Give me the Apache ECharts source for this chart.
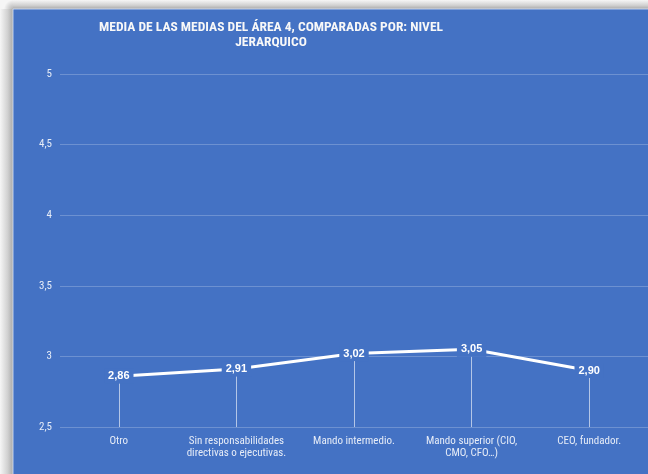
<!DOCTYPE html>
<html>
<head>
<meta charset="utf-8">
<style>
  html, body { margin: 0; padding: 0; background: #ffffff; }
  #chart { width: 648px; height: 474px; }
</style>
<script src="https://cdn.jsdelivr.net/npm/echarts@6/dist/echarts.min.js"></script>
</head>
<body>
<div id="chart"></div>
<script>
// Hierarchy levels and the average score of area 4 for each
const categories = [
  'Otro',
  'Sin responsabilidades\ndirectivas o ejecutivas.',
  'Mando intermedio.',
  'Mando superior (CIO,\nCMO, CFO…)',
  'CEO, fundador.'
];
const averages = [2.86, 2.91, 3.02, 3.05, 2.90];
const yTicks = { min: 2.5, max: 5, step: 0.5 };
const titleLines = ['MEDIA DE LAS MEDIAS DEL ÁREA 4, COMPARADAS POR: NIVEL', 'JERARQUICO'];

const PANEL = '#4472C4';
const narrow = "'Roboto Condensed', 'Liberation Sans Narrow', 'Arial Narrow', Roboto, sans-serif";
const comma = v => String(v).replace('.', ',');

// grey fade used for the card's outer shadow
const fade = (x, y, x2, y2) => new echarts.graphic.LinearGradient(x, y, x2, y2, [
  { offset: 0, color: '#f6f6f6' },
  { offset: 0.6, color: '#d0d0d0' },
  { offset: 1, color: '#a9a9a9' }
]);

const chart = echarts.init(document.getElementById('chart'), null, { renderer: 'canvas' });

chart.setOption({
  backgroundColor: '#f6f6f6',
  animation: false,
  graphic: [
    { type: 'rect', z: -20, shape: { x: 0, y: 9, width: 13, height: 480 }, style: { fill: fade(0, 0, 1, 0) } },
    { type: 'rect', z: -20, shape: { x: 13, y: 0, width: 650, height: 9 }, style: { fill: fade(0, 0, 0, 1) } },
    {
      type: 'rect', z: -20,
      shape: { x: 0, y: 0, width: 13, height: 9 },
      style: { fill: new echarts.graphic.RadialGradient(1, 1, 1, [
        { offset: 0, color: '#b5b5b5' }, { offset: 1, color: '#f6f6f6' }
      ]) }
    },
    {
      // blue card
      type: 'rect',
      z: -10,
      shape: { x: 13, y: 9, width: 720, height: 540 },
      style: {
        fill: PANEL,
        stroke: 'rgba(220,230,250,0.8)',
        lineWidth: 1
      }
    },
    {
      type: 'text',
      z: 10,
      x: 271,
      y: 20,
      style: {
        text: titleLines.join('\n'),
        align: 'center',
        verticalAlign: 'top',
        fill: '#f8f8f8',
        font: "bold 13.5px " + narrow,
        lineHeight: 15
      }
    }
  ],
  grid: { left: 60, top: 74, width: 595, height: 353, containLabel: false },
  xAxis: {
    type: 'category',
    data: categories,
    boundaryGap: true,
    axisLine: { show: false },
    axisTick: { show: false },
    axisLabel: {
      color: '#e6ecf7',
      fontFamily: narrow,
      fontSize: 11,
      lineHeight: 12,
      margin: 8,
      interval: 0
    }
  },
  yAxis: {
    type: 'value',
    min: yTicks.min,
    max: yTicks.max,
    interval: yTicks.step,
    axisLine: { show: false },
    axisTick: { show: false },
    axisLabel: {
      color: '#e6ecf7',
      fontFamily: narrow,
      fontSize: 11,
      margin: 8,
      formatter: comma
    },
    splitLine: { lineStyle: { color: 'rgba(255,255,255,0.22)', width: 1 } }
  },
  series: [{
    type: 'line',
    data: averages,
    symbol: 'circle',
    symbolSize: 1,
    showSymbol: true,
    lineStyle: { color: '#ffffff', width: 3 },
    itemStyle: { color: '#ffffff' },
    label: {
      show: true,
      position: 'inside',
      color: '#ffffff',
      fontFamily: "'Liberation Sans', Arial, sans-serif",
      fontWeight: 'bold',
      fontSize: 11,
      backgroundColor: PANEL,
      padding: [2, 4],
      formatter: p => p.value.toFixed(2).replace('.', ',')
    },
    markLine: {
      silent: true,
      symbol: 'none',
      label: { show: false },
      lineStyle: { color: 'rgba(255,255,255,0.6)', width: 1, type: 'solid' },
      z: 1,
      data: averages.map((v, i) => [
        { xAxis: i, yAxis: v },
        { xAxis: i, yAxis: yTicks.min }
      ])
    },
    z: 3
  }]
});
</script>
</body>
</html>
